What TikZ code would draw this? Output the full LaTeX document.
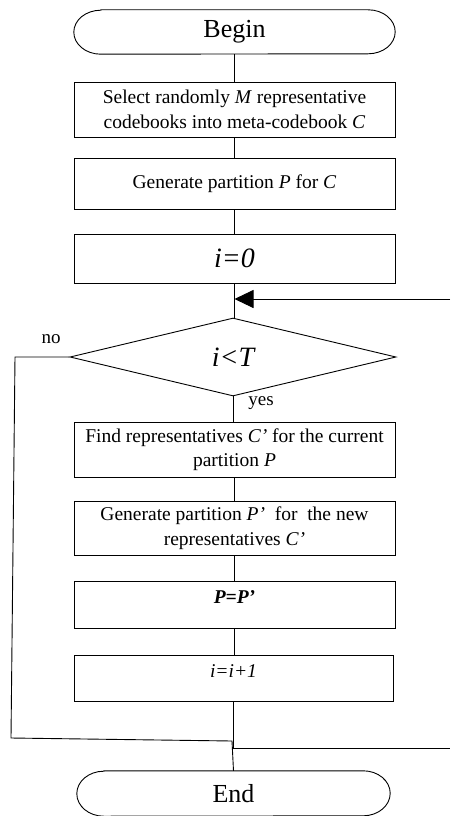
\documentclass[tikz,border=0pt]{standalone}
\usepackage{fontspec}
\setmainfont{Liberation Serif}
\usetikzlibrary{shapes.geometric,arrows.meta}
\newcommand{\termoutline}[1]{%
  \draw[line width=0.9pt] (#1.north west) -- (#1.north east)
    arc[start angle=90,end angle=-90,x radius=27pt,y radius=22pt]
    -- (#1.south west)
    arc[start angle=270,end angle=90,x radius=27pt,y radius=22pt] -- cycle;}
\begin{document}
\begin{tikzpicture}[x=1pt,y=-1pt,
  every node/.style={font=\fontsize{19.5}{24.5}\selectfont},
  boxnode/.style={draw,line width=0.9pt,rectangle,minimum width=321pt,inner sep=2pt,align=center},
  term/.style={rectangle,minimum height=44pt,inner sep=0pt,font=\fontsize{26}{30}\selectfont},
  decision/.style={draw,line width=0.9pt,diamond,minimum width=326pt,minimum height=78pt,inner sep=0pt,font=\fontsize{28}{32}\selectfont\itshape},
  conn/.style={line width=0.9pt},
  lbl/.style={font=\fontsize{19}{22}\selectfont,inner sep=0pt}
]
\useasboundingbox (0,0) rectangle (450,816);

\node[term,minimum width=267pt] (begin) at (234.5,32) {Begin};
\termoutline{begin}
\node[boxnode,minimum height=55pt] (b1) at (234.5,109.5) {Select randomly \textit{M} representative\\codebooks into meta-codebook \textit{C}};
\node[boxnode,minimum height=51pt] (b2) at (234.5,183.5) {Generate partition \textit{P} for \textit{C}};
\node[boxnode,minimum height=49pt,font=\fontsize{28}{32}\selectfont\itshape] (b3) at (234.5,258.5) {i=0};
\node[decision] (d) at (233,357) {i<T};
\node[boxnode,minimum height=55pt] (b4) at (234.5,449.5) {Find representatives \textit{C’} for the current\\partition \textit{P}};
\node[boxnode,minimum height=54pt] (b5) at (234.5,528) {Generate partition \textit{P’}\ \ for\ \ the new\\representatives \textit{C’}};
\node[boxnode,minimum height=47pt,text height=13pt,text depth=16pt] (b6) at (234.5,604.5) {\textbf{\textit{P=P’}}};
\node[boxnode,minimum width=319pt,minimum height=46pt,text height=13pt,text depth=15pt] (b7) at (233.5,678) {\textit{i=i+1}};
\node[term,minimum width=259pt,minimum height=45pt] (stop) at (233.5,793.5) {End};
\draw[line width=0.9pt] (stop.north west) -- (stop.north east)
    arc[start angle=90,end angle=-90,x radius=27pt,y radius=22.5pt]
    -- (stop.south west)
    arc[start angle=270,end angle=90,x radius=27pt,y radius=22.5pt] -- cycle;

\node[lbl] (no) at (51,339) {no};
\node[lbl] (yes) at (261,403) {yes};

\coordinate (r1) at (450,748);
\coordinate (r2) at (450,299);

\draw[conn] (begin.south) -- (b1.north);
\draw[conn] (b1.south) -- (b2.north);
\draw[conn] (b2.south) -- (b3.north);
\draw[conn] (b3.south) -- (b3.south |- d.north);
\draw[conn] (d.south) -- (d.south |- b4.north);
\draw[conn] (b4.south) -- (b5.north);
\draw[conn] (b5.south) -- (b6.north);
\draw[conn] (b6.south) -- (b6.south |- b7.north);
\draw[conn] (b7.south) -- (b7.south |- r1) -- (r1);
\draw[conn,-{Triangle[length=19pt,width=18pt]}] (r2) -- (b3.south |- r2);
\draw[conn] (d.west) -- (15,357) -- (11,738) -- (232,741) -- (stop.north);
\end{tikzpicture}
\end{document}
